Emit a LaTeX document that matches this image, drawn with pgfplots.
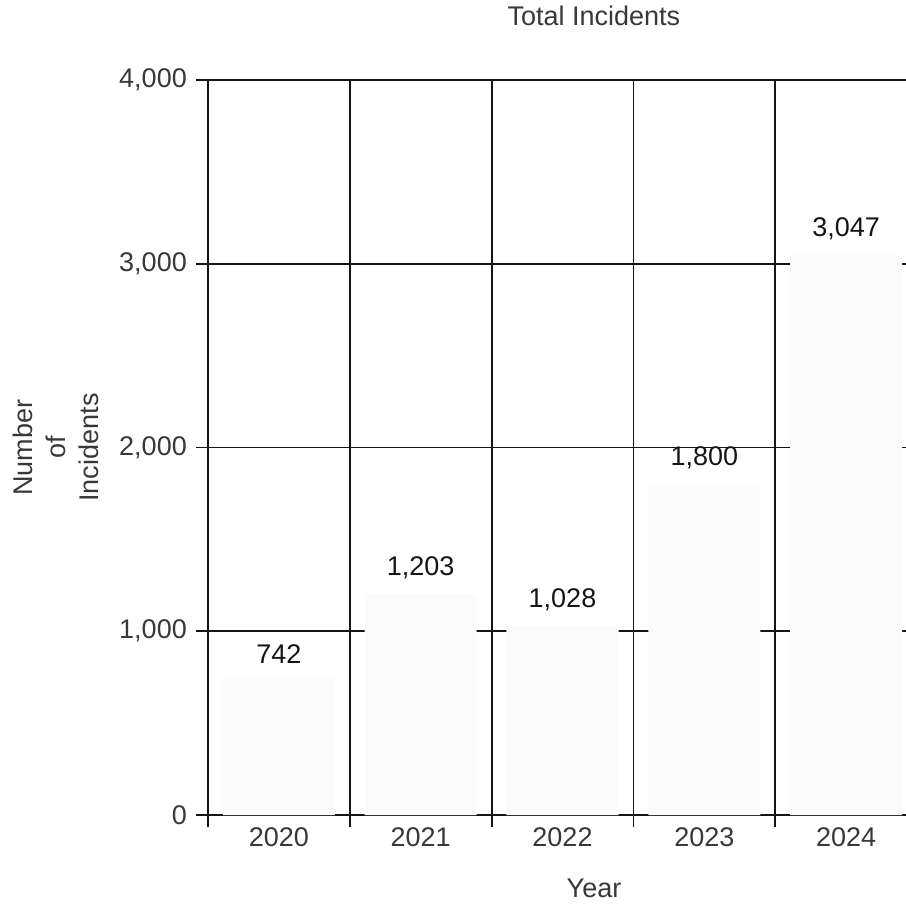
\documentclass[border=0pt]{standalone}
\usepackage{fontspec}
\setmainfont{Liberation Sans}
\usepackage{pgfplots}
\pgfplotsset{compat=1.18}
\definecolor{ink}{HTML}{151515}
\definecolor{barfill}{HTML}{FBFBFB}
\begin{document}
\begin{tikzpicture}[font=\fontsize{27pt}{33pt}\selectfont]
\begin{axis}[
  at={(0,0)}, anchor=south west,
  scale only axis, width=709pt, height=735pt,
  xmin=-0.5, xmax=4.5, ymin=0, ymax=4000,
  ybar, bar width=0.79,
  xtick={0,1,2,3,4}, xticklabels={2020,2021,2022,2023,2024},
  minor xtick={-0.5,0.5,1.5,2.5,3.5,4.5},
  ytick={0,1000,2000,3000,4000},
  yticklabels={0,{1,000},{2,000},{3,000},{4,000}},
  tick align=outside, tick pos=left,
  major tick length=12pt, minor tick length=12pt,
  every major x tick/.append style={draw=none},
  every tick/.append style={ink, line width=1.8pt},
  xminorgrids, ymajorgrids,
  major grid style={ink, line width=1.8pt},
  minor grid style={ink, line width=1.8pt},
  axis line style={ink, line width=1.8pt},
  xticklabel style={inner sep=0pt, text=ink!85},
  yticklabel style={inner sep=9pt, text=ink!85},
  title={Total Incidents},
  title style={at={(axis description cs:0.5444,1.0653)}, anchor=base, inner sep=0pt, text=ink!85},
  xlabel={Year},
  xlabel style={at={(axis description cs:0.5444,-0.1116)}, anchor=base, inner sep=0pt, text=ink!85},
  ylabel={Number\\of\\Incidents},
  ylabel style={at={(axis description cs:-0.2144,0.5)}, anchor=center, align=center, inner sep=0pt, text=ink!85},
  nodes near coords,
  point meta=explicit symbolic,
  every node near coord/.append style={anchor=south, inner sep=0pt, yshift=15pt, text=ink},
]
\addplot[fill=barfill, draw=none] coordinates {
  (0,742) [742]
  (1,1203) [{1,203}]
  (2,1028) [{1,028}]
  (3,1800) [{1,800}]
  (4,3047) [{3,047}]
};
\end{axis}
\pgfresetboundingbox
\path[use as bounding box] (-208pt,-92pt) rectangle (697pt,815pt);
\end{tikzpicture}
\end{document}
